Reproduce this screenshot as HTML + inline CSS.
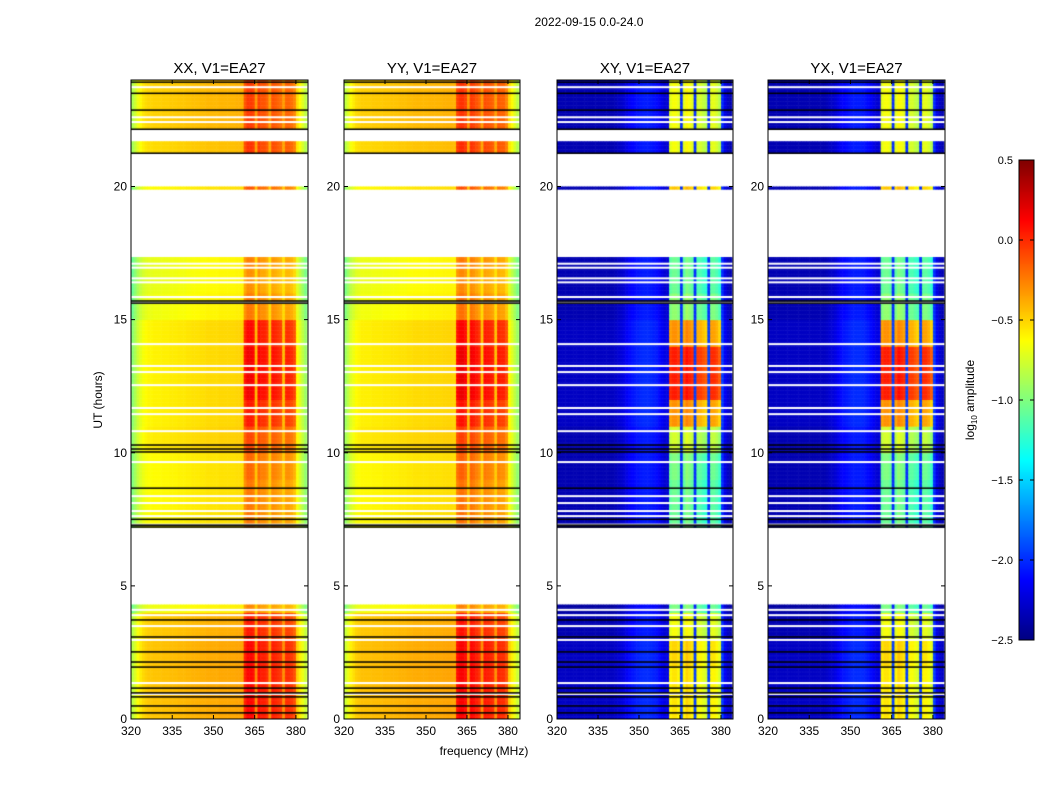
<!DOCTYPE html>
<html><head><meta charset="utf-8"><style>
body{margin:0;background:#fff;width:1050px;height:800px;overflow:hidden;position:relative;font-family:"Liberation Sans",sans-serif}
canvas{position:absolute}
svg{position:absolute;left:0;top:0}
</style></head><body>
<canvas id="p0" width="177" height="639" style="left:131px;top:80px"></canvas>
<canvas id="p1" width="176" height="639" style="left:344px;top:80px"></canvas>
<canvas id="p2" width="176" height="639" style="left:557px;top:80px"></canvas>
<canvas id="p3" width="177" height="639" style="left:768px;top:80px"></canvas>
<canvas id="cb" width="15" height="480" style="left:1019px;top:160px"></canvas>
<svg id="ax" width="1050" height="800"></svg>
<script>
const panelTitles=["XX, V1=EA27","YY, V1=EA27","XY, V1=EA27","YX, V1=EA27"];
const xTicks=[320,335,350,365,380];
const yTicks=[0,5,10,15,20];
const cbTicks=[0.5,0.0,-0.5,-1.0,-1.5,-2.0,-2.5];
// frequency channels 320..383 MHz
const profXX=[-0.95,-0.85,-0.75,-0.68,-0.63,-0.6,-0.58,-0.58,-0.57,-0.57,-0.57,-0.56,-0.56,-0.56,-0.55,-0.55,-0.55,-0.54,-0.54,-0.54,-0.53,-0.53,-0.52,-0.52,-0.52,-0.51,-0.51,-0.5,-0.5,-0.5,-0.5,-0.5,-0.49,-0.49,-0.49,-0.49,-0.49,-0.49,-0.48,-0.48,-0.48,-0.2,-0.12,-0.12,-0.15,-0.4,-0.15,-0.2,-0.2,-0.25,-0.42,-0.2,-0.22,-0.25,-0.28,-0.42,-0.25,-0.25,-0.28,-0.35,-0.6,-0.7,-0.8,-0.9];
const profYY=[-0.9,-0.8,-0.7,-0.65,-0.6,-0.58,-0.56,-0.56,-0.56,-0.56,-0.55,-0.55,-0.55,-0.55,-0.54,-0.54,-0.54,-0.53,-0.53,-0.53,-0.52,-0.52,-0.52,-0.51,-0.51,-0.5,-0.5,-0.5,-0.5,-0.5,-0.5,-0.49,-0.49,-0.49,-0.49,-0.49,-0.48,-0.48,-0.48,-0.48,-0.48,-0.15,-0.1,-0.1,-0.15,-0.4,-0.12,-0.15,-0.2,-0.25,-0.42,-0.18,-0.2,-0.22,-0.25,-0.42,-0.22,-0.25,-0.25,-0.35,-0.6,-0.7,-0.8,-0.9];
const profXY=[-2.35,-2.35,-2.35,-2.35,-2.35,-2.35,-2.35,-2.35,-2.35,-2.35,-2.35,-2.35,-2.35,-2.35,-2.35,-2.35,-2.35,-2.35,-2.35,-2.35,-2.35,-2.33,-2.3,-2.28,-2.25,-2.2,-2.15,-2.12,-2.1,-2.08,-2.06,-2.05,-2.05,-2.05,-2.06,-2.08,-2.1,-2.15,-2.2,-2.25,-2.25,-1.0,-0.95,-0.95,-1.0,-2.0,-1.0,-0.9,-0.95,-1.0,-2.0,-1.05,-1.05,-1.1,-1.15,-2.0,-1.0,-1.0,-1.05,-1.15,-2.0,-2.2,-2.3,-2.35];
const profYX=[-2.35,-2.35,-2.35,-2.35,-2.35,-2.35,-2.35,-2.35,-2.35,-2.35,-2.35,-2.35,-2.35,-2.35,-2.35,-2.35,-2.35,-2.35,-2.35,-2.35,-2.35,-2.33,-2.3,-2.28,-2.25,-2.2,-2.15,-2.12,-2.1,-2.08,-2.06,-2.05,-2.05,-2.05,-2.06,-2.08,-2.1,-2.15,-2.2,-2.25,-2.25,-1.0,-0.95,-0.95,-1.0,-2.0,-1.0,-0.9,-0.95,-1.0,-2.0,-1.05,-1.05,-1.1,-1.15,-2.0,-1.0,-1.0,-1.05,-1.15,-2.0,-2.2,-2.3,-2.35];
// per-hour offsets (0..23)
const rowOffPar=[0.12,0.12,0.12,0.1,-0.1,0,0,-0.05,-0.05,-0.05,0,-0.02,-0.02,-0.02,-0.02,-0.1,-0.12,-0.12,0,-0.05,0,0.05,0.08,0.08];
const bandBoostPar=[0.12,0.12,0.12,0.08,-0.05,0,0,-0.05,-0.05,0.0,0.05,0.2,0.3,0.3,0.25,0.0,-0.05,0,0,0.05,0,0.05,0.0,0.0];
const rowOffCross=[0.05,0.05,0.05,0.0,-0.05,0,0,0,0,0,0,0.05,0.05,0.05,0.05,0,0,0,0,0,0,0,0,0];
const bandBoostCross=[0.35,0.35,0.4,0.3,0.0,0,0,-0.1,-0.1,-0.05,0.2,0.6,0.95,0.95,0.6,0.0,-0.1,-0.1,0,0.5,0,0.3,0.3,0.3];
const dataSegments=[[0,4.3],[7.2,10.3],[10.3,15.6],[15.7,17.35],[19.88,20.0],[21.25,21.7],[22.15,24]];
const whiteLines=[0.94,1.35,2.97,3.49,3.9,4.1,7.3,7.62,7.81,8.11,8.37,9.65,10.81,11.45,11.68,12.54,13.03,13.26,14.08,15.85,16.4,16.55,16.95,17.1,22.42,22.6,23.73];
const blackLines=[0.23,0.49,0.83,0.98,1.16,1.95,2.14,2.52,3.08,3.72,7.21,7.28,7.5,8.67,10.03,10.14,10.29,15.62,15.7,21.25,22.15,22.87,23.5,23.92];

const PW=[177,176,176,177], PH=639, X0=320, X1=384.4;
function jet(v){let t=(v+2.5)/3; t=Math.max(0,Math.min(1,t));
 const f=(x)=>Math.max(0,Math.min(1,x));
 const r=f(1.5-Math.abs(4*t-3)), g=f(1.5-Math.abs(4*t-2)), b=f(1.5-Math.abs(4*t-1));
 return `rgb(${Math.round(r*255)},${Math.round(g*255)},${Math.round(b*255)})`;}
const profs=[profXX,profYY,profXY,profYX];
function inData(h){return dataSegments.some(s=>h>=s[0]&&h<s[1]);}
for(let p=0;p<4;p++){
 const c=document.getElementById('p'+p).getContext('2d'); const W=PW[p];
 const xs=f=>(f-X0)/(X1-X0)*W, ys=h=>PH-h/24*PH;
 const par=p<2; const ro=par?rowOffPar:rowOffCross, bb=par?bandBoostPar:bandBoostCross;
 const prof=profs[p];
 for(let r=0;r<480;r++){const h=r*0.05; if(!inData(h+0.025))continue;
  const hi=Math.min(23,Math.floor(h));
  for(let i=0;i<prof.length;i++){const f=X0+i;
   let v=prof[i]+ro[hi]; const band=f>=361&&f<=379&&(f-360)%5!==0;
   if(band) v+=bb[hi];
   c.fillStyle=jet(v); const x=xs(f), y=ys(h+0.05);
   c.fillRect(x,y,xs(f+1)-x+0.5,ys(h)-y+0.5);}}
 c.fillStyle='#fff'; whiteLines.forEach(h=>c.fillRect(0,ys(h)-1,W,2));
 c.fillStyle='#000'; blackLines.forEach(h=>c.fillRect(0,ys(h)-0.75,W,1.5));
}
{const c=document.getElementById('cb').getContext('2d');
 for(let y=0;y<480;y++){c.fillStyle=jet(0.5-y/480*3);c.fillRect(0,y,15,1);}}
const NS='http://www.w3.org/2000/svg', svg=document.getElementById('ax');
function el(t,a,txt){const e=document.createElementNS(NS,t);for(const k in a)e.setAttribute(k,a[k]);if(txt!==undefined)e.textContent=txt;svg.appendChild(e);return e;}
const PX=[131,344,557,768];
let t=el('text',{x:589,y:26,'text-anchor':'middle','font-size':12},'2022-09-15 0.0-24.0');


for(let p=0;p<4;p++){const x0=PX[p],W=PW[p];
 const xs=f=>x0+(f-X0)/(X1-X0)*W, ys=h=>80+PH-h/24*PH;
 const fr=el('rect',{x:x0,y:80,width:W,height:PH,fill:'none',stroke:'#000','stroke-width':1});
 
 
 const tt=el('text',{x:x0+W/2,y:73,'text-anchor':'middle','font-size':15},panelTitles[p]);
 
 
 xTicks.forEach(v=>{const x=xs(v);
  el('line',{x1:x,x2:x,y1:719,y2:715,stroke:'#000'});el('line',{x1:x,x2:x,y1:80,y2:84,stroke:'#000'});
  const l=el('text',{x:x,y:735,'text-anchor':'middle','font-size':12},String(v));
  
  });
 yTicks.forEach(v=>{const y=ys(v);
  el('line',{x1:x0,x2:x0+4,y1:y,y2:y,stroke:'#000'});el('line',{x1:x0+W-4,x2:x0+W,y1:y,y2:y,stroke:'#000'});
  const l=el('text',{x:x0-4,y:y+4,'text-anchor':'end','font-size':12},String(v));
  
  });
}
t=el('text',{x:484,y:755,'text-anchor':'middle','font-size':12},'frequency (MHz)');


t=el('text',{x:0,y:0,'text-anchor':'middle','font-size':12,transform:'translate(102,400) rotate(-90)'},'UT (hours)');


el('rect',{x:1019,y:160,width:15,height:480,fill:'none',stroke:'#000'});
cbTicks.forEach(v=>{const y=160+(0.5-v)/3*480;
 el('line',{x1:1019,x2:1023,y1:y,y2:y,stroke:'#000'});el('line',{x1:1030,x2:1034,y1:y,y2:y,stroke:'#000'});
 const l=el('text',{x:1013,y:y+4,'text-anchor':'end','font-size':11},v.toFixed(1).replace('-','\u2212'));
 
 });
t=el('text',{x:0,y:0,'text-anchor':'middle','font-size':12,transform:'translate(974,400) rotate(-90)'});
t.innerHTML='log<tspan font-size="8" dy="3">10</tspan><tspan dy="-3"> amplitude</tspan>';


</script></body></html>
